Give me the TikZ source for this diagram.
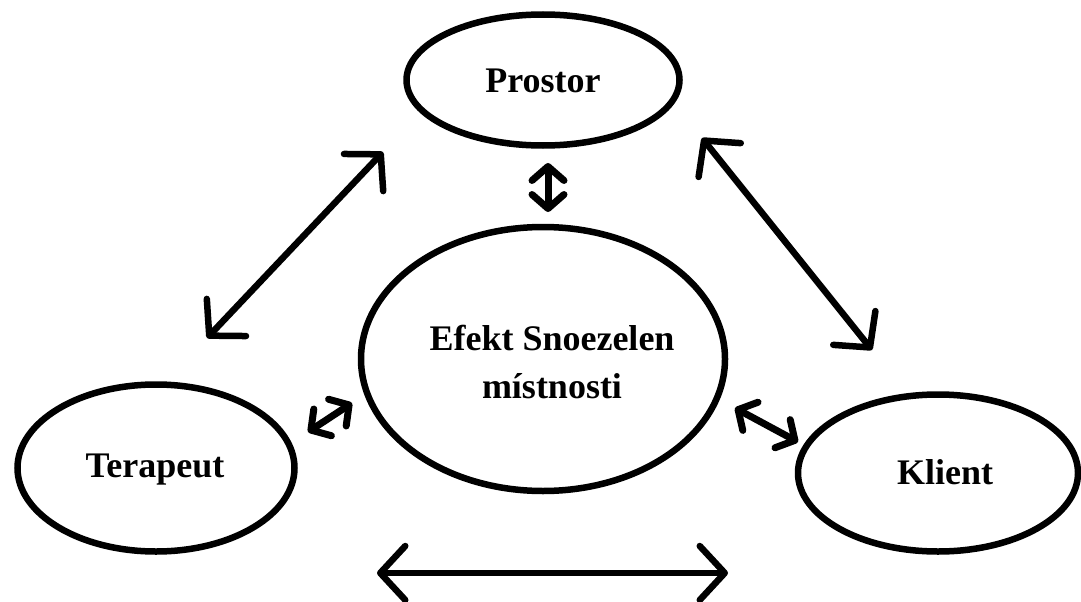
\documentclass[tikz,border=0pt]{standalone}
\usepackage{fontspec}
\setmainfont{Liberation Serif}
\usetikzlibrary{arrows.meta,shapes.geometric}
\begin{document}
\begin{tikzpicture}[x=1pt,y=-1pt,
  oval/.style={draw,line width=6.5pt,ellipse,inner sep=0pt},
  lbl/.style={font=\fontsize{36}{48}\selectfont\bfseries,align=center},
  bigarrow/.style={line width=6.5pt,line cap=round,
    {Straight Barb[length=25pt,width=54pt,round]}-{Straight Barb[length=25pt,width=54pt,round]}},
  smallarrow/.style={line width=7pt,line cap=round,
    {Straight Barb[length=14pt,width=32pt,round]}-{Straight Barb[length=14pt,width=32pt,round]}}]
\fill[white] (0,0) rectangle (1081,602);
\useasboundingbox (0,0) rectangle (1081,602);
% ellipses
\node[oval,minimum width=273pt,minimum height=131pt] (prostor) at (543,80) {};
\node[lbl] (prostortext) at (543,81) {Prostor};
\node[oval,minimum width=364pt,minimum height=264pt] (efekt) at (543,359) {};
\node[lbl] (efekttext) at (552,362) {Efekt Snoezelen\\místnosti};
\node[oval,minimum width=277pt,minimum height=167pt] (terapeut) at (156,468) {};
\node[lbl] (terapeuttext) at (155,470) {Terapeut};
\node[oval,minimum width=280pt,minimum height=157pt] (klient) at (938,473) {};
\node[lbl] (klienttext) at (945,472) {Klient};
% arrow end points
\coordinate (pA) at (548,163);
\coordinate (pB) at (548,212);
\coordinate (lA) at (207,338);
\coordinate (lB) at (383,152);
\coordinate (rA) at (702,138);
\coordinate (rB) at (872,350);
\coordinate (tA) at (308,432);
\coordinate (tB) at (352,403);
\coordinate (kA) at (735,408);
\coordinate (kB) at (798,442);
\coordinate (bA) at (377,573);
\coordinate (bB) at (728,573);
% arrows
\draw[smallarrow] (pA) -- (pB);
\draw[bigarrow] (lA) -- (lB);
\draw[bigarrow] (rA) -- (rB);
\draw[smallarrow] (tA) -- (tB);
\draw[smallarrow] (kA) -- (kB);
\draw[bigarrow] (bA) -- (bB);
\end{tikzpicture}
\end{document}
